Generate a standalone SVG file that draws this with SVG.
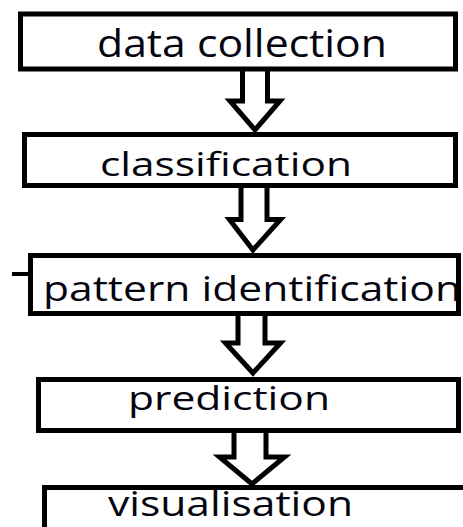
<svg xmlns="http://www.w3.org/2000/svg" width="463" height="527" viewBox="0 0 463 527">
<style>
.box{fill:#fff;stroke:#000;stroke-width:5}
.arr{fill:#fff;stroke:#000;stroke-width:5;stroke-linejoin:miter}
.lbl{font-family:"Open Sans","DejaVu Sans",sans-serif;fill:#050510}
</style>
<rect width="463" height="527" fill="#fff"/>
<g id="connectors">
<path class="arr" d="M242.5,70 V101 H230 L255,130 L280,101 H267.5 V70"/>
<path class="arr" d="M241,187 V219.5 H229.5 L253,250 L280.5,219.5 H267 V187"/>
<path class="arr" d="M238,315 V343 H225.5 L253,373 L280.5,343 H265 V315"/>
<path class="arr" d="M234,432 V457 H219.5 L252,484 L284.5,457 H266 V432"/>
</g>
<g id="n1">
<rect class="box" x="20.5" y="14" width="435" height="55"/>
<text class="lbl" x="97" y="57" font-size="38" textLength="290" lengthAdjust="spacingAndGlyphs">data collection</text>
</g>
<g id="n2">
<rect class="box" x="24.5" y="134.5" width="431" height="51"/>
<text class="lbl" x="100" y="176" font-size="33" textLength="252" lengthAdjust="spacingAndGlyphs">classification</text>
</g>
<g id="n3">
<line x1="12" y1="274" x2="30" y2="274" stroke="#000" stroke-width="4"/>
<rect class="box" x="30.5" y="255.5" width="428" height="58"/>
<text class="lbl" x="43" y="301" font-size="34" textLength="418" lengthAdjust="spacingAndGlyphs">pattern identification</text>
</g>
<g id="n4">
<rect class="box" x="38.5" y="379.5" width="420" height="51"/>
<text class="lbl" x="128" y="410" font-size="33" textLength="202" lengthAdjust="spacingAndGlyphs">prediction</text>
</g>
<g id="n5">
<rect class="box" x="44.5" y="487.5" width="430" height="60"/>
<text class="lbl" x="108" y="516" font-size="34" textLength="245" lengthAdjust="spacingAndGlyphs">visualisation</text>
</g>
</svg>
